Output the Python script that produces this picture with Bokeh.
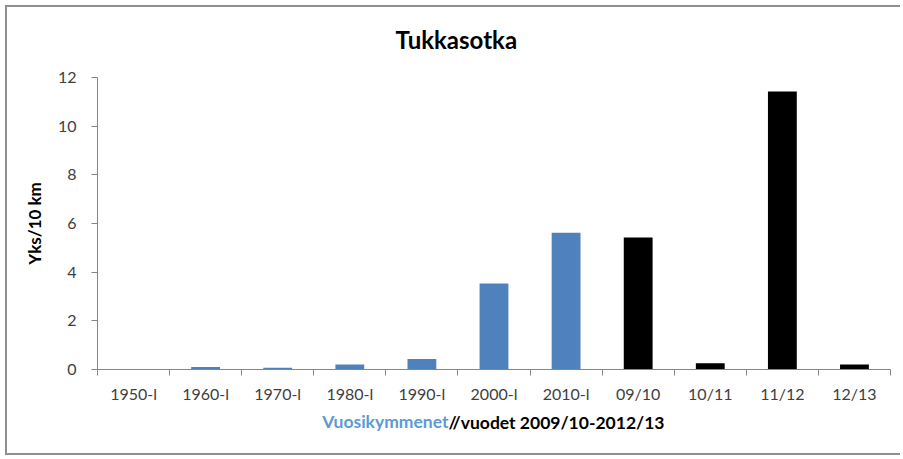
from bokeh.plotting import figure
from bokeh.models import FixedTicker, Range1d, Title
from bokeh.embed import file_html
from bokeh.resources import INLINE

# ---- data ----
decades = ["1950-l", "1960-l", "1970-l", "1980-l", "1990-l", "2000-l", "2010-l"]
decade_values = [0.0, 0.10, 0.07, 0.21, 0.43, 3.53, 5.62]
seasons = ["09/10", "10/11", "11/12", "12/13"]
season_values = [5.42, 0.26, 11.42, 0.21]
y_ticks = [0, 2, 4, 6, 8, 10, 12]
title_text = "Tukkasotka"
y_label = "Yks/10 km"
x_label_blue = "Vuosikymmenet"
x_label_black = "//vuodet 2009/10-2012/13"

categories = decades + seasons
n = len(categories)
centers = [i + 0.5 for i in range(n)]
dec_x = centers[:len(decades)]
sea_x = centers[len(decades):]

FONT = "Lato"
BLUE = "#4F81BD"
AXIS_GRAY = "#868686"
FRAME_GRAY = "#8f8f8f"

p = figure(width=900, height=458, output_backend="svg", toolbar_location=None,
           x_range=Range1d(0, n), y_range=Range1d(0, 12),
           min_border_left=97, min_border_top=77, min_border_bottom=89,
           min_border_right=10)
# chart-area frame (top, left, bottom edges) painted behind a transparent canvas
g = f"linear-gradient({FRAME_GRAY},{FRAME_GRAY})"
p.styles = {
    "background-color": "white",
    "background-image": f"{g},{g},{g}",
    "background-size": "895px 2px, 2px 450px, 895px 2px",
    "background-position": "5px 5px, 5px 5px, 5px 453px",
    "background-repeat": "no-repeat",
}
p.border_fill_alpha = 0
p.background_fill_color = "white"
p.outline_line_color = None
p.xgrid.grid_line_color = None
p.ygrid.grid_line_color = None

p.vbar(x=dec_x, top=decade_values, width=0.4, fill_color=BLUE, line_color=None)
p.vbar(x=sea_x, top=season_values, width=0.4, fill_color="black", line_color=None)

# x axis: category labels at centers, tick marks at boundaries
xa = p.xaxis[0]
xa.ticker = FixedTicker(ticks=centers, minor_ticks=list(range(n + 1)))
xa.major_label_overrides = {c: lab for c, lab in zip(centers, categories)}
xa.major_tick_line_color = None
xa.major_tick_in = 0
xa.major_tick_out = 0
xa.minor_tick_in = 0
xa.minor_tick_out = 6
xa.minor_tick_line_color = AXIS_GRAY
xa.axis_line_color = AXIS_GRAY
xa.major_label_text_font = FONT
xa.major_label_text_font_size = "16px"
xa.major_label_text_color = "#404040"
xa.major_label_standoff = 8

ya = p.yaxis[0]
ya.ticker = FixedTicker(ticks=y_ticks)
ya.minor_tick_line_color = None
ya.major_tick_in = 0
ya.major_tick_out = 6
ya.major_tick_line_color = AXIS_GRAY
ya.axis_line_color = AXIS_GRAY
ya.major_label_text_font = FONT
ya.major_label_text_font_size = "16px"
ya.major_label_text_color = "#404040"
ya.major_label_standoff = 15
ya.axis_label = y_label
ya.axis_label_text_font = FONT
ya.axis_label_text_font_style = "bold"
ya.axis_label_text_font_size = "17px"
ya.axis_label_text_color = "black"
ya.axis_label_standoff = 10

# chart title
p.title = Title(text=title_text, align="left", offset=298, standoff=45,
                vertical_align="middle",
                text_font=FONT, text_font_style="bold", text_font_size="24px",
                text_color="black")

# two-colour x axis label (second part pulled back onto the same row)
p.add_layout(Title(text=x_label_blue, align="right", offset=442,
                   text_font=FONT, text_font_style="bold", text_font_size="17.5px",
                   text_color="#5B9BD5", standoff=6), "below")
p.add_layout(Title(text=x_label_black, align="left", offset=351,
                   vertical_align="top",
                   text_font=FONT, text_font_style="bold", text_font_size="17.5px",
                   text_color="black", standoff=-46), "below")

open("out.html", "w").write(file_html(p, INLINE))
